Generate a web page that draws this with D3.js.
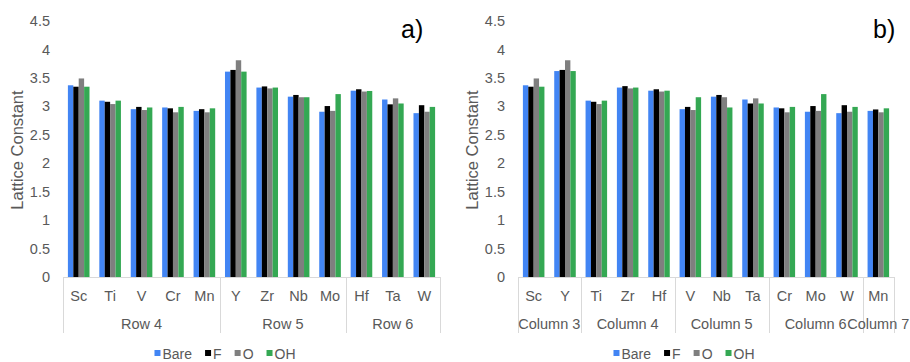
<!DOCTYPE html>
<html>
<head>
<meta charset="utf-8">
<script src="https://cdn.jsdelivr.net/npm/d3@7"></script>
<style>
  body { margin: 0; background: #fff; }
  text { font-family: "Liberation Sans", Arial, sans-serif; }
</style>
</head>
<body>
<svg id="chart"></svg>
<script>
var width = 910;
var height = 362;

// shared
var series = ["Bare", "F", "O", "OH"];
var colors = ["#4285F4", "#000000", "#7F7F7F", "#34A853"];
var yTicks = [0, 0.5, 1, 1.5, 2, 2.5, 3, 3.5, 4, 4.5];

// panel a) grouped by row
var aElements = ["Sc", "Ti", "V", "Cr", "Mn", "Y", "Zr", "Nb", "Mo", "Hf", "Ta", "W"];
var aGroups = ["Row 4", "Row 5", "Row 6"];
var aGroupSize = [5, 4, 3];
var aBare = [3.37, 3.10, 2.95, 2.98, 2.92, 3.61, 3.33, 3.17, 2.905, 3.275, 3.12, 2.88];
var aF    = [3.345, 3.08, 2.99, 2.965, 2.95, 3.64, 3.35, 3.20, 3.005, 3.30, 3.035, 3.02];
var aO    = [3.49, 3.04, 2.935, 2.895, 2.895, 3.81, 3.315, 3.16, 2.92, 3.26, 3.14, 2.905];
var aOH   = [3.345, 3.10, 2.98, 2.99, 2.965, 3.61, 3.33, 3.16, 3.215, 3.27, 3.05, 2.99];

// panel b) grouped by column
var bElements = ["Sc", "Y", "Ti", "Zr", "Hf", "V", "Nb", "Ta", "Cr", "Mo", "W", "Mn"];
var bGroups = ["Column 3", "Column 4", "Column 5", "Column 6", "Column 7"];
var bGroupSize = [2, 3, 3, 3, 1];
var bBare = [3.37, 3.62, 3.10, 3.33, 3.275, 2.95, 3.17, 3.12, 2.98, 2.905, 2.88, 2.92];
var bF    = [3.345, 3.64, 3.08, 3.355, 3.30, 2.99, 3.20, 3.05, 2.965, 3.005, 3.02, 2.945];
var bO    = [3.49, 3.81, 3.04, 3.315, 3.26, 2.935, 3.16, 3.14, 2.895, 2.92, 2.905, 2.895];
var bOH   = [3.345, 3.62, 3.10, 3.33, 3.275, 3.16, 2.98, 3.05, 2.99, 3.215, 2.99, 2.965];

var svg = d3.select("#chart").attr("width", width).attr("height", height);

var y = d3.scaleLinear().domain([0, 4.5]).range([277, 21]);

function drawPanel(p) {
    var g = svg.append("g");

    var x = d3.scaleBand().domain(p.elements).range([p.x0, p.x1]).padding(0);
    var pad = 4.9;
    var x1 = d3.scaleBand().domain(series).range([pad, x.bandwidth() - pad]).padding(0);

    // y axis labels
    var yAxis = d3.axisLeft(y).tickValues(yTicks).tickSize(0).tickPadding(0)
        .tickFormat(function(d) { return String(d); });
    var ya = g.append("g").attr("transform", "translate(" + p.tickX + ",0)").call(yAxis);
    ya.select(".domain").remove();
    ya.selectAll("text").attr("fill", "#595959").style("font-size", "14.5px")
        .style("font-family", "'Liberation Sans', Arial, sans-serif");

    g.append("text")
        .attr("transform", "translate(" + (p.x0 - 40) + ",150) rotate(-90)")
        .attr("text-anchor", "middle")
        .attr("fill", "#595959")
        .style("font-size", "16.5px")
        .text("Lattice Constant");

    // bars
    var rows = p.elements.map(function(el, i) {
        return { el: el, vals: p.values.map(function(s) { return s[i]; }) };
    });
    var grp = g.append("g").selectAll("g")
        .data(rows)
        .enter().append("g")
        .attr("transform", function(d) { return "translate(" + x(d.el) + ",0)"; });
    grp.selectAll("rect")
        .data(function(d) { return d.vals.map(function(v, k) { return { s: series[k], v: v, k: k }; }); })
        .enter().append("rect")
        .attr("x", function(d) { return x1(d.s); })
        .attr("width", x1.bandwidth())
        .attr("y", function(d) { return y(d.v); })
        .attr("height", function(d) { return y(0) - y(d.v); })
        .attr("fill", function(d) { return colors[d.k]; });

    // category axis
    g.append("line")
        .attr("x1", p.x0).attr("x2", p.x1)
        .attr("y1", y(0) + 0.5).attr("y2", y(0) + 0.5)
        .attr("stroke", "#d9d9d9");

    g.append("g").selectAll("text")
        .data(p.elements)
        .enter().append("text")
        .attr("x", function(d) { return x(d) + x.bandwidth() / 2; })
        .attr("y", 301)
        .attr("text-anchor", "middle")
        .attr("fill", "#595959")
        .style("font-size", "14.5px")
        .text(function(d) { return d; });

    var bounds = [0];
    p.groupSize.forEach(function(n, i) { bounds.push(bounds[i] + n); });
    var bx = bounds.map(function(b) { return p.x0 + b * x.step(); });

    g.append("g").selectAll("line")
        .data(bx)
        .enter().append("line")
        .attr("x1", function(d) { return Math.round(d) + 0.5; })
        .attr("x2", function(d) { return Math.round(d) + 0.5; })
        .attr("y1", y(0)).attr("y2", 333)
        .attr("stroke", "#d9d9d9");

    g.append("g").selectAll("text")
        .data(p.groups)
        .enter().append("text")
        .attr("x", function(d, i) { return (bx[i] + bx[i + 1]) / 2; })
        .attr("y", 329)
        .attr("text-anchor", "middle")
        .attr("fill", "#595959")
        .style("font-size", "14.5px")
        .text(function(d) { return d; });

    // panel label
    g.append("text")
        .attr("x", p.labelX).attr("y", 38)
        .attr("fill", "#000")
        .style("font-size", "25px")
        .text(p.label);

    // legend
    var leg = g.append("g");
    var cx = 0;
    series.forEach(function(s, k) {
        leg.append("rect")
            .attr("x", cx).attr("y", 350)
            .attr("width", 6).attr("height", 6)
            .attr("fill", colors[k]);
        var t = leg.append("text")
            .attr("x", cx + 8).attr("y", 358.5)
            .attr("fill", "#595959")
            .style("font-size", "14px")
            .text(s);
        cx += 8 + t.node().getComputedTextLength() + 13;
    });
    var lw = cx - 13;
    leg.attr("transform", "translate(" + (p.legendCenter - lw / 2) + ",0)");
}

drawPanel({
    x0: 63, x1: 440, tickX: 50, labelX: 401, legendCenter: 225,
    elements: aElements, groups: aGroups, groupSize: aGroupSize,
    values: [aBare, aF, aO, aOH], label: "a)"
});

drawPanel({
    x0: 518, x1: 894, tickX: 505, labelX: 873, legendCenter: 684,
    elements: bElements, groups: bGroups, groupSize: bGroupSize,
    values: [bBare, bF, bO, bOH], label: "b)"
});
</script>
</body>
</html>
